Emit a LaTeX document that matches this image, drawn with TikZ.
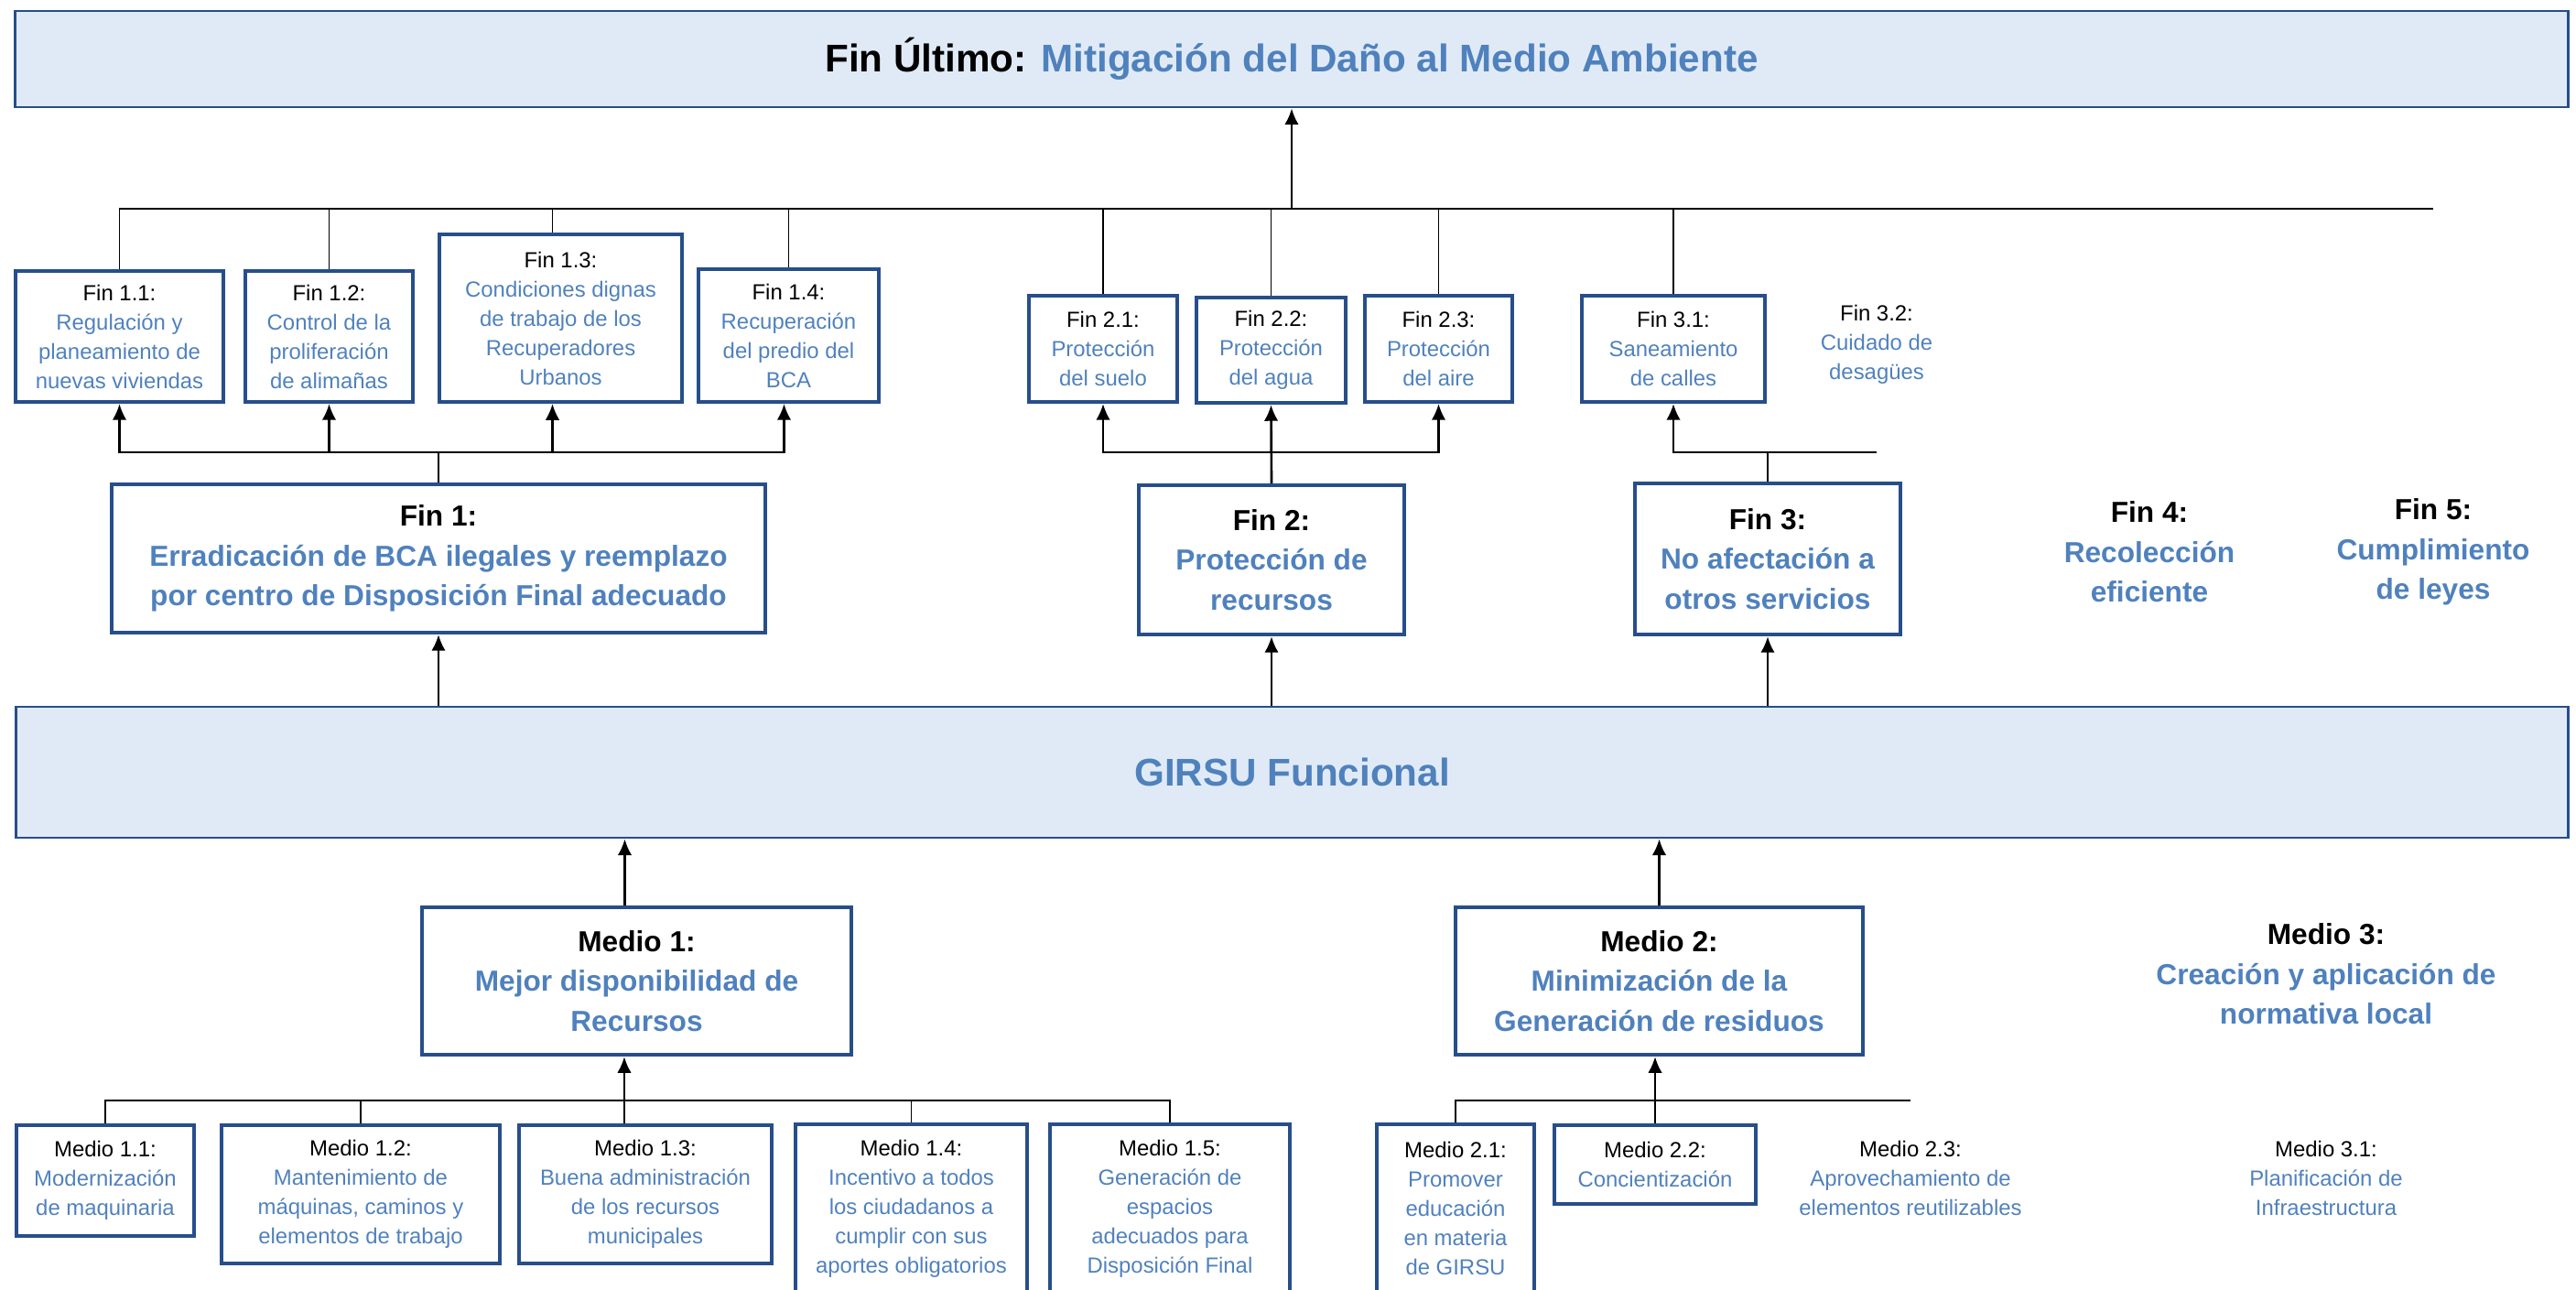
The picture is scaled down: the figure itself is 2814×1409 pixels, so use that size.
\documentclass[tikz,border=0pt]{standalone}
\usepackage{fontspec}
\setmainfont{Liberation Sans}
\usetikzlibrary{arrows.meta}

\definecolor{borde}{HTML}{274E8A}
\definecolor{azul}{HTML}{4F81BD}
\definecolor{fondo}{HTML}{E0EAF6}
\newcommand{\encab}[1]{{\color{black}#1}}

\begin{document}
\begin{tikzpicture}[x=0.01cm,y=-0.01cm,
  caja/.style={draw=borde,line width=1.2pt,text=azul,align=center,inner sep=0pt},
  ancha/.style={draw=borde,line width=0.8pt,fill=fondo,text=azul,align=center,inner sep=0pt},
  libre/.style={text=azul,align=center,inner sep=0pt},
  chico/.style={font=\fontsize{6.8}{9.1}\selectfont},
  grande/.style={font=\fontsize{9}{12.4}\selectfont\bfseries},
  titulo/.style={font=\fontsize{12}{14}\selectfont\bfseries},
  linea/.style={line width=0.5pt},
  punta/.style={line width=0.6pt,-{Latex[length=5pt,width=4.4pt]}},
  flecha/.style={line width=0.75pt,-{Latex[length=5pt,width=4.4pt]}}]
\useasboundingbox (0,0) rectangle (2814,1409);

% fin ultimo
\node [ancha,titulo,minimum width=27.88cm,minimum height=1.05cm] (ultimo) at (1411,64.5)
  {\encab{Fin Último:} Mitigación del Daño al Medio Ambiente};

% fines
\node [caja,chico,minimum width=2.27cm,minimum height=1.43cm] (f11) at (130.5,367.5)
  {\encab{Fin 1.1:}\\Regulación y\\planeamiento de\\nuevas viviendas};
\node [caja,chico,minimum width=1.83cm,minimum height=1.43cm] (f12) at (359.5,367.5)
  {\encab{Fin 1.2:}\\Control de la\\proliferación\\de alimañas};
\node [caja,chico,minimum width=2.65cm,minimum height=1.83cm] (f13) at (612.5,347.5)
  {\encab{Fin 1.3:}\\Condiciones dignas\\de trabajo de los\\Recuperadores\\Urbanos};
\node [caja,chico,minimum width=1.97cm,minimum height=1.45cm] (f14) at (861.5,366.5)
  {\encab{Fin 1.4:}\\Recuperación\\del predio del\\BCA};
\node [caja,chico,minimum width=1.62cm,minimum height=1.16cm] (f21) at (1205,381)
  {\encab{Fin 2.1:}\\Protección\\del suelo};
\node [caja,chico,minimum width=1.63cm,minimum height=1.15cm] (f22) at (1388.5,382.5)
  {\encab{Fin 2.2:}\\Protección\\del agua};
\node [caja,chico,minimum width=1.61cm,minimum height=1.16cm] (f23) at (1571.5,381)
  {\encab{Fin 2.3:}\\Protección\\del aire};
\node [caja,chico,minimum width=2.00cm,minimum height=1.16cm] (f31) at (1828,381)
  {\encab{Fin 3.1:}\\Saneamiento\\de calles};
\node [libre,chico] (f32) at (2050,376)
  {\encab{Fin 3.2:}\\Cuidado de\\desagües};

\node [caja,grande,minimum width=7.14cm,minimum height=1.62cm] (f1) at (479,610)
  {\encab{Fin 1:}\\Erradicación de BCA ilegales y reemplazo\\por centro de Disposición Final adecuado};
\node [caja,grande,minimum width=2.90cm,minimum height=1.63cm] (f2) at (1389,611.5)
  {\encab{Fin 2:}\\Protección de\\recursos};
\node [caja,grande,minimum width=2.90cm,minimum height=1.65cm] (f3) at (1931,610.5)
  {\encab{Fin 3:}\\No afectación a\\otros servicios};
\node [libre,grande] (f4) at (2348,603)
  {\encab{Fin 4:}\\Recolección\\eficiente};
\node [libre,grande] (f5) at (2658,603)
  {\encab{Fin 5:}\\Cumplimiento\\de leyes};

% proposito
\node [ancha,titulo,minimum width=27.87cm,minimum height=1.43cm] (girsu) at (1411.5,843.5)
  {GIRSU Funcional};

% medios
\node [caja,grande,minimum width=4.69cm,minimum height=1.61cm] (m1) at (695.5,1071.5)
  {\encab{Medio 1:}\\Mejor disponibilidad de\\Recursos};
\node [caja,grande,minimum width=4.45cm,minimum height=1.61cm] (m2) at (1812.5,1071.5)
  {\encab{Medio 2:}\\Minimización de la\\Generación de residuos};
\node [libre,grande] (m3) at (2541,1064)
  {\encab{Medio 3:}\\Creación y aplicación de\\normativa local};

\node [caja,chico,minimum width=1.94cm,minimum height=1.21cm] (m11) at (115,1289.5)
  {\encab{Medio 1.1:}\\Modernización\\de maquinaria};
\node [caja,chico,minimum width=3.04cm,minimum height=1.51cm] (m12) at (394,1304.5)
  {\encab{Medio 1.2:}\\Mantenimiento de\\máquinas, caminos y\\elementos de trabajo};
\node [caja,chico,minimum width=2.76cm,minimum height=1.51cm] (m13) at (705,1304.5)
  {\encab{Medio 1.3:}\\Buena administración\\de los recursos\\municipales};
\node [caja,chico,minimum width=2.53cm,minimum height=1.84cm] (m14) at (995.5,1320)
  {\encab{Medio 1.4:}\\Incentivo a todos\\los ciudadanos a\\cumplir con sus\\aportes obligatorios};
\node [caja,chico,minimum width=2.62cm,minimum height=1.84cm] (m15) at (1278,1320)
  {\encab{Medio 1.5:}\\Generación de\\espacios\\adecuados para\\Disposición Final};
\node [caja,chico,minimum width=1.72cm,minimum height=1.84cm] (m21) at (1590,1320)
  {\encab{Medio 2.1:}\\Promover\\educación\\en materia\\de GIRSU};
\node [caja,chico,minimum width=2.20cm,minimum height=0.86cm] (m22) at (1808,1272)
  {\encab{Medio 2.2:}\\Concientización};
\node [libre,chico] (m23) at (2087,1287)
  {\encab{Medio 2.3:}\\Aprovechamiento de\\elementos reutilizables};
\node [libre,chico] (m31) at (2541,1287)
  {\encab{Medio 3.1:}\\Planificación de\\Infraestructura};

% barras
\coordinate (bus0) at (0,228);
\coordinate (bus1) at (0,494);
\coordinate (bus2) at (0,1202);

% arriba
\draw [flecha] (ultimo.south |- bus0) -- (ultimo.south);
\draw [linea] (f11.north) |- (f5 |- bus0);
\foreach \n in {f12,f14,f21,f22,f23,f31}
  \draw [linea] (\n.north) -- (\n.north |- bus0);
\draw [linea] ([xshift=-0.09cm]f13.north) -- ([xshift=-0.09cm]f13.north |- bus0);

% fin 1
\draw [linea] (f1.north) -- (f1.north |- bus1);
\draw [punta] (f1.north |- bus1) -| (f11.south);
\draw [punta] (f1.north |- bus1) -| ([xshift=-0.05cm]f14.south);
\draw [punta] (f12.south |- bus1) -- (f12.south);
\draw [punta] ([xshift=-0.09cm]f13.south |- bus1) -- ([xshift=-0.09cm]f13.south);

% fin 2
\draw [flecha] (f2.north) -- (f22.south);
\draw [punta] (f22.south |- bus1) -| (f21.south);
\draw [punta] (f22.south |- bus1) -| (f23.south);

% fin 3
\draw [linea] (f3.north) -- (f3.north |- bus1);
\draw [punta] (f32 |- bus1) -| (f31.south);

% girsu
\draw [flecha] (girsu.north -| f1) -- (f1.south);
\draw [flecha] (girsu.north -| f2) -- (f2.south);
\draw [flecha] (girsu.north -| f3) -- (f3.south);
\draw [flecha] ([xshift=-0.13cm]m1.north) -- ([xshift=-0.13cm]m1.north |- girsu.south);
\draw [flecha] (m2.north) -- (m2.north |- girsu.south);

% medio 1
\draw [linea] (m11.north) |- (m15.north |- bus2) -- (m15.north);
\draw [linea] (m12.north) -- (m12.north |- bus2);
\draw [linea] (m14.north) -- (m14.north |- bus2);
\draw [flecha] ([xshift=-0.23cm]m13.north) -- ([xshift=-0.23cm]m13.north |- m1.south);

% medio 2
\draw [linea] (m21.north) |- (m23 |- bus2);
\draw [flecha] (m22.north) -- (m22.north |- m2.south);
\end{tikzpicture}
\end{document}
